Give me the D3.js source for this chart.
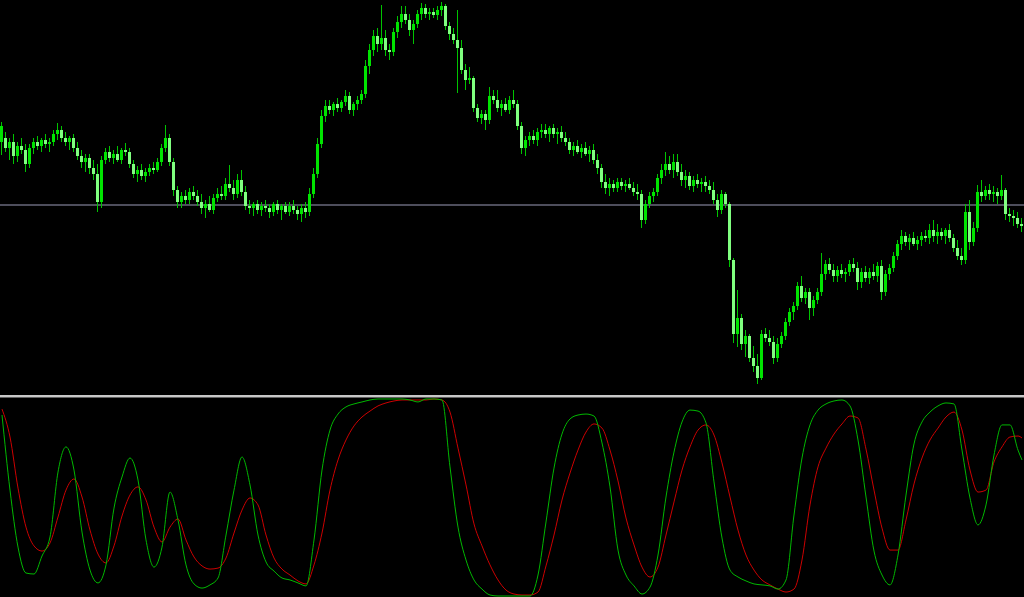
<!DOCTYPE html>
<html><head><meta charset="utf-8">
<script src="https://cdn.jsdelivr.net/npm/d3@7"></script>
<style>html,body{margin:0;padding:0;background:#000;overflow:hidden}svg{display:block}</style>
</head><body><svg id="c" width="1024" height="597"></svg>
<script>
// ---- price candles (arbitrary price units) ----
const opens = [
258,262,252,258,244,254,250,236, 252,258,254,260,256,258,266,270,
262,258,262,252,244,238,242,232, 226,198,240,248,242,246,240,250,
248,236,226,230,224,228,232,230, 238,252,262,238,210,198,204,200,
208,204,198,192,196,190,202,206, 204,216,212,206,220,208,194,192,
196,190,194,192,188,196,190,194, 188,194,190,186,192,188,206,226,
256,284,294,290,296,292,298,304, 290,296,300,306,334,350,364,356,
362,350,348,368,378,386,380,370, 376,386,392,386,388,385,390,394,
374,366,360,352,330,320,322,292, 282,286,280,304,300,292,296,290,
300,296,274,252,260,264,260,268, 270,266,272,266,268,262,258,250,
254,248,252,246,250,240,232,218, 212,216,212,218,214,216,212,208,
206,180,196,204,208,222,230,236, 230,238,228,220,224,214,220,216,
218,214,210,200,190,206,196,140, 66,82,56,64,42,34,22,66,
62,58,42,56,64,78,88,94, 114,102,108,92,100,108,126,136,
130,124,130,126,128,136,132,118, 128,122,128,124,134,108,126,132,
144,156,164,158,162,156,160,164, 162,170,164,168,164,170,162,152,
144,140,188,158,172,208,204,210, 206,208,204,210,186,184,182,176];
const highs = [
278,268,262,266,258,262,256,256, 262,264,262,266,262,270,277,274,
268,264,266,258,250,246,246,240, 236,244,252,254,250,254,252,257,
252,240,234,236,232,236,238,242, 256,275,266,242,214,208,210,212,
214,210,206,200,204,206,212,214, 222,235,220,226,230,214,200,198,
200,198,200,196,198,200,196,198, 198,200,194,196,198,212,232,262,
290,300,300,298,302,300,310,308, 298,304,310,340,356,370,372,395,
370,356,372,384,394,394,386,380, 390,397,396,392,392,394,398,396,
378,372,390,360,336,333,324,296, 290,290,313,310,310,300,302,304,
310,300,278,264,268,270,272,276, 276,274,276,272,274,268,262,258,
260,256,258,254,256,246,236,226, 222,220,222,222,220,222,218,216,
210,200,208,212,226,236,248,244, 246,246,236,230,228,224,226,222,
224,220,218,206,210,208,198,142, 110,86,70,66,54,46,70,72,
70,64,62,68,82,92,98,118, 124,112,112,104,112,147,140,142,
136,134,136,132,140,142,138,132, 134,132,136,138,140,130,136,148,
160,170,168,166,168,164,168,170, 176,180,176,172,172,176,166,160,
152,196,200,178,215,220,214,216, 214,212,225,212,192,190,188,182];
const lows = [
245,248,240,236,238,246,228,232, 246,250,248,252,248,254,260,258,
254,250,248,240,232,228,226,220, 188,192,236,238,236,238,236,244,
232,222,218,220,218,224,226,228, 234,248,234,204,192,192,196,196,
200,194,186,182,188,186,198,200, 200,208,200,202,204,190,186,184,
186,184,188,182,184,186,180,186, 184,186,180,178,182,184,202,222,
252,278,286,284,288,288,294,286, 284,290,296,302,326,344,348,350,
344,340,344,362,372,376,364,356, 372,380,382,380,382,380,384,370,
360,356,307,326,310,316,288,278, 276,270,276,296,288,284,288,286,
292,270,246,244,254,256,254,262, 262,258,262,256,258,254,246,244,
246,242,244,238,236,226,212,206, 204,208,208,210,208,210,204,200,
172,176,192,198,204,216,224,226, 222,224,214,212,210,208,212,208,
208,206,196,183,186,192,133,57, 53,50,43,38,28,16,20,58,
54,36,38,52,60,74,80,90, 98,96,80,84,96,104,120,126,
118,118,122,118,124,128,110,112, 118,116,120,118,100,104,120,128,
140,150,154,150,154,150,154,158, 156,158,156,160,156,158,148,140,
135,136,150,154,168,198,200,200, 198,196,200,180,178,174,172,168];
const closes = [
274,252,258,244,254,250,236,252, 258,254,260,256,258,266,270,262,
258,262,252,244,238,242,232,226, 198,240,248,242,246,240,250,248,
236,226,230,224,228,232,230,238, 252,262,238,210,198,204,200,208,
204,198,192,196,190,202,206,204, 216,212,206,220,208,194,192,196,
190,194,192,188,196,190,194,188, 194,190,186,192,188,206,226,256,
284,294,290,296,292,298,304,290, 296,300,306,334,350,364,356,362,
350,348,368,378,386,380,370,376, 386,392,386,388,385,390,394,374,
366,360,352,330,320,322,292,282, 286,280,304,300,292,296,290,300,
296,274,252,260,264,260,268,270, 266,272,266,268,262,258,250,254,
248,252,246,250,240,232,218,212, 216,212,218,214,216,212,208,206,
180,196,204,208,222,230,236,230, 238,228,220,224,214,220,216,218,
214,210,200,190,206,196,140,66, 82,56,64,42,34,22,66,62,
58,42,56,64,78,88,94,114, 102,108,92,100,108,126,136,130,
124,130,126,128,136,132,118,128, 122,128,124,134,108,126,132,144,
156,164,158,162,156,160,164,162, 170,164,168,164,170,162,152,144,
140,188,158,172,208,204,210,206, 208,204,210,186,184,182,176,174];
const levelPrice = 195;

// ---- stochastic oscillator, sampled every 2nd bar (last = final bar) ----
const stochMain = [
91.4,53.5,24.7,11.6,11.1,20.2,29.8,62.6, 75.3,63.6,32.3,13.1,6.6,15.7,44.4,60.1,
69.7,58.6,28.3,14.6,24.7,52.5,38.4,15.7, 6.1,4.0,5.6,9.1,30.8,53.5,70.2,56.1,
30.8,17.2,12.6,9.1,8.1,6.6,5.1,28.3, 63.6,83.8,91.9,95.5,97.0,98.0,99.0,99.5,
99.5,99.5,99.5,99.0,98.0,99.5,99.5,99.0, 65.2,34.8,18.2,8.1,3.5,0.5,0,0,
0,0,0,10.6,37.4,64.6,81.8,89.4, 91.4,91.9,90.9,77.3,55.1,23.2,10.6,5.1,
1.0,4.5,20.7,50.0,72.7,87.9,93.9,93.4, 87.4,57.6,29.3,13.1,9.6,7.6,6.1,5.6,
5.1,3.5,8.1,40.9,69.7,86.4,93.9,97.0, 98.5,99.0,96.0,78.8,50.0,22.7,10.6,5.6,
20.7,51.0,76.8,87.9,92.9,96.0,97.5,97.0, 73.7,49.5,35.9,46.0,71.2,86.4,86.4,73.7,
68.7];
const stochSignal = [
94.4,80.3,54.5,34.8,25.3,22.7,26.8,39.9, 53.5,59.1,50.0,33.3,21.2,16.7,25.3,40.4,
51.0,55.1,48.5,34.8,27.3,34.8,38.9,28.3, 19.7,15.2,13.6,14.1,19.2,31.8,43.4,49.5,
46.0,30.8,19.2,13.6,10.6,7.6,6.1,15.7, 31.8,53.5,68.7,78.8,85.9,90.4,93.4,96.0,
97.5,98.5,99.0,99.0,99.0,99.0,99.5,99.0, 92.9,74.7,56.1,36.4,25.3,15.7,8.1,3.0,
1.0,0.5,0.5,2.0,15.2,30.8,48.5,62.1, 73.7,82.8,86.9,84.8,73.7,58.1,39.4,25.8,
14.6,9.6,14.6,30.8,47.5,63.6,75.3,83.8, 86.4,81.3,67.2,50.0,33.3,20.7,13.1,8.1,
5.6,3.5,2.0,3.5,18.2,46.0,65.2,74.7, 81.8,86.9,90.9,89.9,74.2,53.5,34.3,23.2,
23.2,38.4,56.6,69.7,78.8,84.8,90.4,92.9, 83.8,63.6,52.5,53.5,67.7,75.3,80.3,80.8,
79.8];

(function () {
const W = 1024, H = 597;
const svg = d3.select('#c');
svg.append('rect').attr('width', W).attr('height', H).attr('fill', '#000');

const n = closes.length;
const x = d3.scaleLinear().domain([0, n]).range([0, W]);
const y = d3.scaleLinear().domain([0, 400]).range([400, 0]);
const ys = d3.scaleLinear().domain([0, 100]).range([596, 398]);

const defs = svg.append('defs');
defs.append('clipPath').attr('id', 'clipTop').append('rect').attr('x', 0).attr('y', 0).attr('width', W).attr('height', 394);
defs.append('clipPath').attr('id', 'clipBot').append('rect').attr('x', 0).attr('y', 398).attr('width', W).attr('height', H - 398);

const topG = svg.append('g').attr('clip-path', 'url(#clipTop)');
const ly = Math.round(y(levelPrice));
topG.append('rect').attr('x', 0).attr('y', ly - 1).attr('width', W).attr('height', 2).attr('fill', '#4e4e5c');

const idx = d3.range(n);
const cg = topG.append('g').attr('shape-rendering', 'crispEdges');
cg.selectAll('line.w').data(idx).join('line').attr('class', 'w')
  .attr('x1', i => Math.round(x(i)) + 1.5).attr('x2', i => Math.round(x(i)) + 1.5)
  .attr('y1', i => y(highs[i])).attr('y2', i => y(lows[i]))
  .attr('stroke', '#00c400').attr('stroke-width', 1);
cg.selectAll('rect.b').data(idx).join('rect').attr('class', 'b')
  .attr('x', i => Math.round(x(i)))
  .attr('width', 3)
  .attr('y', i => y(Math.max(opens[i], closes[i])))
  .attr('height', i => Math.max(1, Math.abs(y(opens[i]) - y(closes[i]))))
  .attr('fill', i => closes[i] >= opens[i] ? '#00e400' : '#80ff80');

svg.append('rect').attr('x', 0).attr('y', 395).attr('width', W).attr('height', 2).attr('fill', '#c8c8c8');
svg.append('rect').attr('x', 0).attr('y', 397).attr('width', W).attr('height', 1).attr('fill', '#606060');

const botG = svg.append('g').attr('clip-path', 'url(#clipBot)');
const sx = j => x(Math.min(2 * j, n - 1)) + 2;
const line = d3.line().x((d, j) => sx(j)).y(d => ys(d)).curve(d3.curveMonotoneX);
botG.append('path').datum(stochSignal).attr('d', line).attr('fill', 'none').attr('stroke', '#cc0000').attr('stroke-width', 1);
botG.append('path').datum(stochMain).attr('d', line).attr('fill', 'none').attr('stroke', '#00b800').attr('stroke-width', 1);
})();
</script></body></html>
